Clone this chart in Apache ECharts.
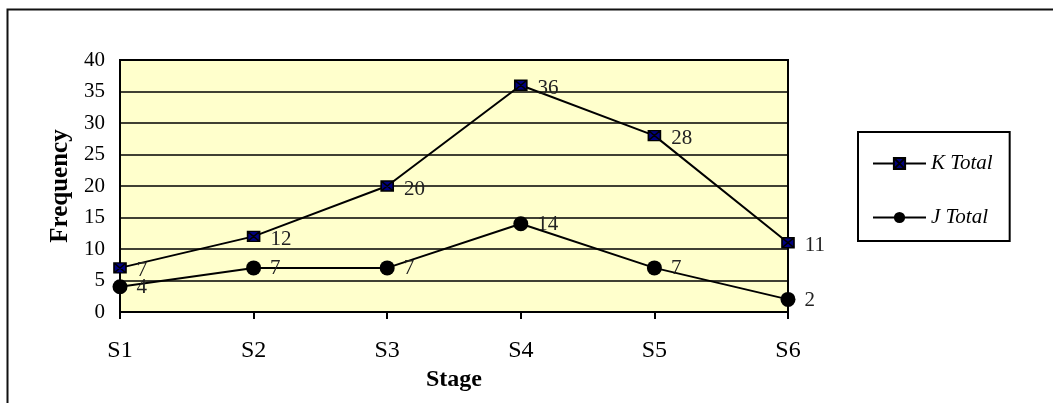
<!DOCTYPE html>
<html>
<head>
<meta charset="utf-8">
<script src="https://cdn.jsdelivr.net/npm/echarts@6/dist/echarts.min.js"></script>
<style>
  html, body { margin: 0; padding: 0; background: #fff; }
  #chart { width: 1053px; height: 403px; }
</style>
</head>
<body>
<div id="chart"></div>
<script>
// Stage categories and frequency per group
const stages = ['S1', 'S2', 'S3', 'S4', 'S5', 'S6'];
const kTotal = [7, 12, 20, 36, 28, 11];
const jTotal = [4, 7, 7, 14, 7, 2];
const yTicks = { min: 0, max: 40, interval: 5 };

const serif = '"Liberation Serif", "Times New Roman", serif';
// square with a diagonal cross
const crossSquare = 'path://M0,0 L10,0 L10,10 L0,10 Z M0,0 L10,10 M10,0 L0,10';

const chart = echarts.init(document.getElementById('chart'));
chart.setOption({
  animation: false,
  backgroundColor: '#fff',
  graphic: [{
    type: 'rect',
    shape: { x: 7.5, y: 9.5, width: 1100, height: 500 },
    style: { fill: 'none', stroke: '#111', lineWidth: 2 },
    silent: true
  }],
  grid: {
    left: 120, right: 265, top: 60, bottom: 91,
    show: true, backgroundColor: '#FFFFCC', borderColor: '#000', borderWidth: 2
  },
  legend: {
    orient: 'vertical',
    left: 858, top: 132,
    padding: [21, 17, 13, 14],
    itemGap: 33,
    itemWidth: 53, itemHeight: 14,
    borderColor: '#000', borderWidth: 2,
    backgroundColor: '#fff',
    textStyle: { fontFamily: serif, fontSize: 21, lineHeight: 14, fontStyle: 'italic', color: '#000' },
    data: ['K Total', 'J Total']
  },
  xAxis: {
    type: 'category',
    data: stages,
    boundaryGap: false,
    name: 'Stage',
    nameLocation: 'middle',
    nameGap: 56,
    nameTextStyle: { fontFamily: serif, fontSize: 24, fontWeight: 'bold', color: '#000' },
    axisLine: { lineStyle: { color: '#000', width: 2 } },
    axisTick: { show: true, inside: false, length: 7, alignWithLabel: true, lineStyle: { color: '#000', width: 2 } },
    axisLabel: { fontFamily: serif, fontSize: 24, color: '#000', margin: 27 },
    splitLine: { show: false }
  },
  yAxis: {
    type: 'value',
    min: yTicks.min, max: yTicks.max, interval: yTicks.interval,
    name: 'Frequency',
    nameLocation: 'middle',
    nameRotate: 90,
    nameGap: 45,
    nameTextStyle: { fontFamily: serif, fontSize: 25, fontWeight: 'bold', color: '#000' },
    axisLine: { show: true, lineStyle: { color: '#000', width: 2 } },
    axisTick: { show: false },
    axisLabel: { fontFamily: serif, fontSize: 21, color: '#000', margin: 15 },
    splitLine: { show: true, lineStyle: { color: '#000', width: 1.5 } }
  },
  series: [
    {
      name: 'K Total',
      type: 'line',
      data: kTotal,
      symbol: crossSquare,
      symbolSize: [12, 10],
      showAllSymbol: true,
      itemStyle: { color: '#000080', borderColor: '#000', borderWidth: 1.5 },
      lineStyle: { color: '#000', width: 2 },
      label: {
        show: true, position: 'right', distance: 10, offset: [0, 3],
        fontFamily: serif, fontSize: 21, color: '#222'
      },
      z: 3
    },
    {
      name: 'J Total',
      type: 'line',
      data: jTotal,
      symbol: 'circle',
      symbolSize: 15,
      showAllSymbol: true,
      itemStyle: { color: '#000' },
      lineStyle: { color: '#000', width: 2 },
      label: {
        show: true, position: 'right', distance: 9, offset: [0, 1],
        fontFamily: serif, fontSize: 21, color: '#222'
      },
      z: 3
    }
  ]
});
</script>
</body>
</html>
